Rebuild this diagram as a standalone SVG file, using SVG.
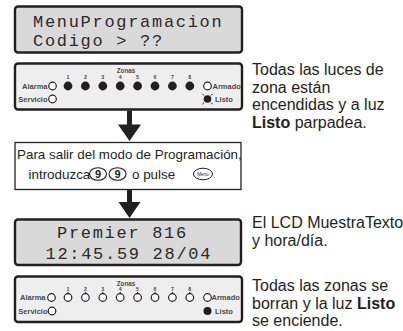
<svg xmlns="http://www.w3.org/2000/svg" width="403" height="331" viewBox="0 0 403 331">
<defs>
<style>
.lcd{fill:#d9d9d9;stroke:#231f20;stroke-width:2.4}
.pnl{fill:#eeeeee;stroke:#231f20;stroke-width:2.4}
.box{fill:#ffffff;stroke:#231f20;stroke-width:1.3}
.lt{font-family:"Liberation Mono","DejaVu Sans Mono",monospace;font-size:17px;letter-spacing:1.7px;fill:#2a2a2a}
.lb{font-family:"Liberation Sans",Arial,sans-serif;font-weight:bold;font-size:7.5px;fill:#4a4a4a}
.zn{font-family:"Liberation Sans",Arial,sans-serif;font-weight:bold;font-size:6.3px;fill:#4a4a4a}
.num{font-family:"Liberation Sans",Arial,sans-serif;font-weight:bold;font-size:5.3px;fill:#4a4a4a;text-anchor:middle}
.on{fill:#231f20}
.off{fill:#ffffff;stroke:#231f20;stroke-width:1.2}
.tk{stroke:#231f20;stroke-width:1}
.desc{font-family:"Liberation Sans",Arial,sans-serif;font-size:16px;fill:#231f20}
.bt{font-family:"Liberation Sans",Arial,sans-serif;font-size:13.4px;fill:#231f20}
.arrow{fill:#231f20}
</style>
</defs>

<g id="lcd1">
<rect class="lcd" x="15" y="6.5" width="227" height="46" rx="3"/>
<text class="lt" x="33" y="26.5">MenuProgramacion</text>
<text class="lt" x="33" y="46">Codigo &gt; ??</text>
</g>

<g id="panel1">
<rect class="pnl" x="15" y="63.5" width="227" height="46" rx="3"/>
<text class="zn" x="126" y="73" text-anchor="middle">Zonas</text>
<g class="num">
<text x="68" y="78.5">1</text><text x="85.4" y="78.5">2</text><text x="102.8" y="78.5">3</text><text x="120.2" y="78.5">4</text>
<text x="137.6" y="78.5">5</text><text x="155" y="78.5">6</text><text x="172.4" y="78.5">7</text><text x="189.8" y="78.5">8</text>
</g>
<text class="lb" x="47.5" y="88.7" text-anchor="end">Alarma</text>
<circle class="off" cx="52.5" cy="86" r="3.8"/>
<circle class="on" cx="68" cy="86" r="4.4"/><circle class="on" cx="85.4" cy="86" r="4.4"/>
<circle class="on" cx="102.8" cy="86" r="4.4"/><circle class="on" cx="120.2" cy="86" r="4.4"/>
<circle class="on" cx="137.6" cy="86" r="4.4"/><circle class="on" cx="155" cy="86" r="4.4"/>
<circle class="on" cx="172.4" cy="86" r="4.4"/><circle class="on" cx="189.8" cy="86" r="4.4"/>
<circle class="off" cx="207.5" cy="86" r="3.8"/>
<text class="lb" x="212.5" y="88.7">Armado</text>
<text class="lb" x="47.5" y="101.7" text-anchor="end">Servicio</text>
<circle class="off" cx="52.5" cy="99" r="3.8"/>
<circle class="on" cx="207.5" cy="99" r="3.8"/>
<path class="tk" d="M202.3 93.8 L204 95.5 M212.7 93.8 L211 95.5 M202.3 104.2 L204 102.5 M212.7 104.2 L211 102.5"/>
<text class="lb" x="215" y="101.7">Listo</text>
</g>

<g id="desc1">
<text class="desc" x="252" y="75">Todas las luces de</text>
<text class="desc" x="252" y="92.5">zona están</text>
<text class="desc" x="252" y="110">encendidas y a luz</text>
<text class="desc" x="252" y="127.5"><tspan font-weight="bold">Listo</tspan> parpadea.</text>
</g>

<g id="exitbox">
<rect class="box" x="15" y="142.5" width="226" height="47"/>
<text class="bt" x="17" y="159.3">Para salir del modo de Programación,</text>
<text class="bt" x="28.5" y="179">introduzca</text>
<ellipse cx="98" cy="174" rx="8.5" ry="6.3" fill="#fff" stroke="#231f20" stroke-width="1.1"/>
<text x="98" y="178" font-family="Liberation Sans,Arial,sans-serif" font-weight="bold" font-size="11px" text-anchor="middle" fill="#231f20">9</text>
<ellipse cx="117.5" cy="174" rx="8.5" ry="6.3" fill="#fff" stroke="#231f20" stroke-width="1.1"/>
<text x="117.5" y="178" font-family="Liberation Sans,Arial,sans-serif" font-weight="bold" font-size="11px" text-anchor="middle" fill="#231f20">9</text>
<text class="bt" x="132" y="179">o pulse</text>
<ellipse cx="203" cy="174" rx="9.5" ry="5.8" fill="#fff" stroke="#231f20" stroke-width="1"/>
<text x="203" y="175.6" font-family="Liberation Sans,Arial,sans-serif" font-size="4.5px" text-anchor="middle" fill="#231f20">Menú</text>
</g>

<g id="lcd2">
<rect class="lcd" x="15" y="219.5" width="226" height="45.5" rx="3"/>
<text class="lt" x="57" y="237.5">Premier 816</text>
<text class="lt" x="45.5" y="259">12:45.59 28/04</text>
</g>

<g id="desc2">
<text class="desc" x="252" y="228">El LCD MuestraTexto</text>
<text class="desc" x="252" y="245.5">y hora/día.</text>
</g>

<g id="panel2">
<rect class="pnl" x="15" y="276.5" width="227" height="45.5" rx="3"/>
<text class="zn" x="126" y="285.5" text-anchor="middle">Zonas</text>
<g class="num">
<text x="68" y="291">1</text><text x="85.4" y="291">2</text><text x="102.8" y="291">3</text><text x="120.2" y="291">4</text>
<text x="137.6" y="291">5</text><text x="155" y="291">6</text><text x="172.4" y="291">7</text><text x="189.8" y="291">8</text>
</g>
<text class="lb" x="45.5" y="300.2" text-anchor="end">Alarma</text>
<circle class="off" cx="51.5" cy="297.5" r="3.8"/>
<circle class="off" cx="68" cy="297.5" r="3.8"/><circle class="off" cx="85.4" cy="297.5" r="3.8"/>
<circle class="off" cx="102.8" cy="297.5" r="3.8"/><circle class="off" cx="120.2" cy="297.5" r="3.8"/>
<circle class="off" cx="137.6" cy="297.5" r="3.8"/><circle class="off" cx="155" cy="297.5" r="3.8"/>
<circle class="off" cx="172.4" cy="297.5" r="3.8"/><circle class="off" cx="189.8" cy="297.5" r="3.8"/>
<path class="tk" d="M68 293.7v-1.8 M85.4 293.7v-1.8 M102.8 293.7v-1.8 M120.2 293.7v-1.8 M137.6 293.7v-1.8 M155 293.7v-1.8 M172.4 293.7v-1.8 M189.8 293.7v-1.8"/>
<circle class="off" cx="207.5" cy="297.5" r="3.8"/>
<text class="lb" x="211.5" y="300.2">Armado</text>
<text class="lb" x="47.5" y="313.7" text-anchor="end">Servicio</text>
<circle class="off" cx="52" cy="311" r="3.8"/>
<circle class="on" cx="207.5" cy="311" r="4"/>
<text class="lb" x="215" y="313.7">Listo</text>
</g>

<g id="desc3">
<text class="desc" x="252" y="291">Todas las zonas se</text>
<text class="desc" x="252" y="308.5">borran y la luz <tspan font-weight="bold">Listo</tspan></text>
<text class="desc" x="252" y="326">se enciende.</text>
</g>

<g id="connectors">
<path class="arrow" d="M127 110.5 H132 V124.5 H141 L129.5 141 L118 124.5 H127 Z"/>
<path class="arrow" d="M127 190 H132 V202 H140.5 L129.5 218 L118.5 202 H127 Z"/>
</g>
</svg>
